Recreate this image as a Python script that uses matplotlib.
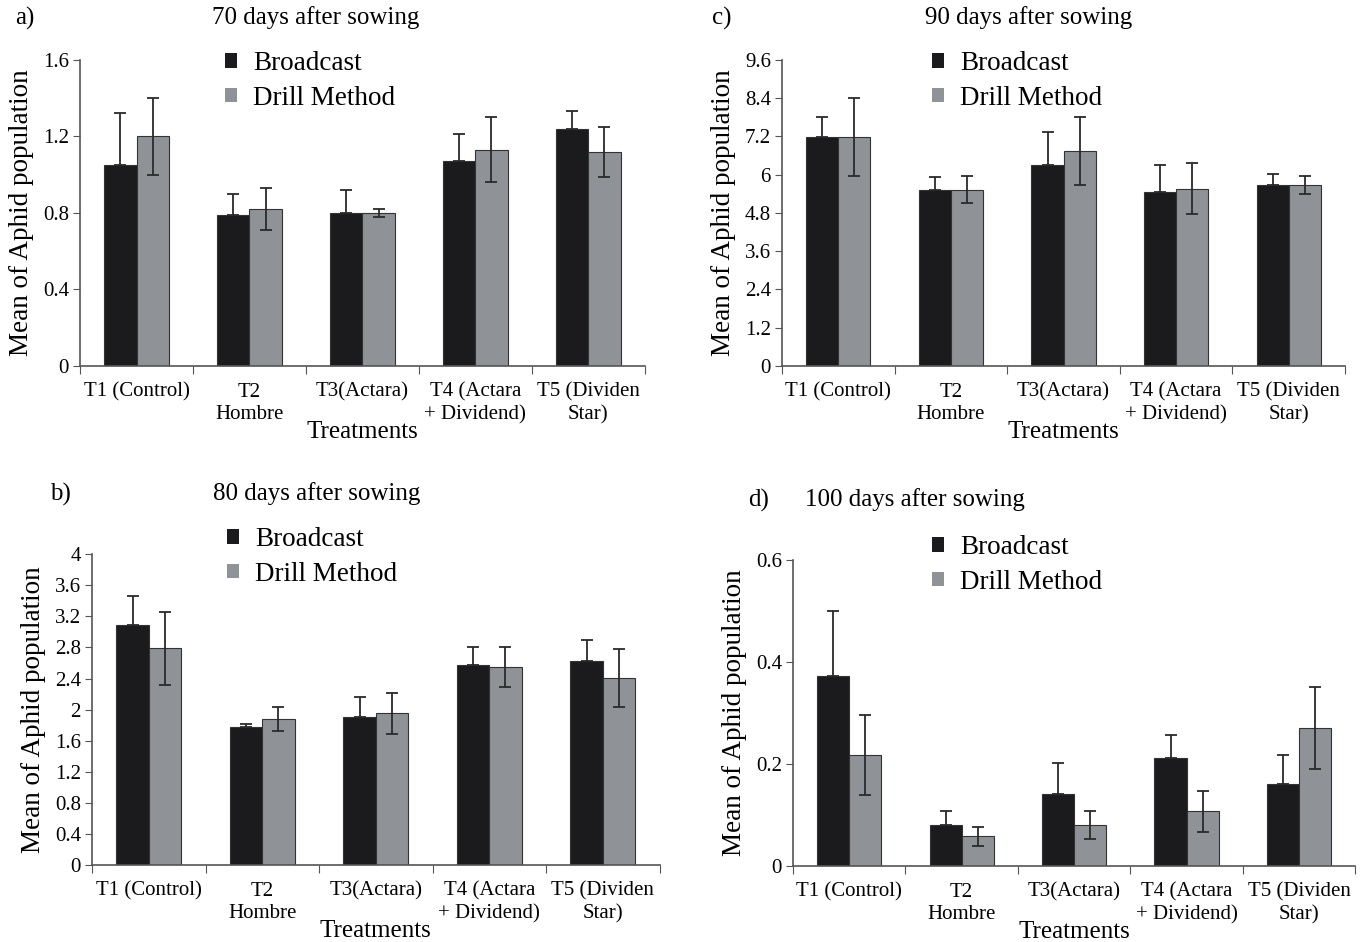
import numpy as np
import matplotlib
matplotlib.use('Agg')
import matplotlib.pyplot as plt
from matplotlib.patches import Patch

plt.rcParams['font.family'] = ['Liberation Serif', 'DejaVu Serif']

treatments = ['T1 (Control)', 'T2\nHombre', 'T3(Actara)', 'T4 (Actara\n+ Dividend)', 'T5 (Dividen\nStar)']

# 70 days
broad_70 = [1.05, 0.79, 0.80, 1.07, 1.24]
broad_70_err = [0.27, 0.11, 0.12, 0.14, 0.09]
drill_70 = [1.20, 0.82, 0.80, 1.13, 1.12]
drill_70_err = [0.20, 0.11, 0.02, 0.17, 0.13]

# 80 days
broad_80 = [3.09, 1.77, 1.90, 2.57, 2.63]
broad_80_err = [0.37, 0.05, 0.26, 0.23, 0.26]
drill_80 = [2.79, 1.88, 1.95, 2.55, 2.41]
drill_80_err = [0.47, 0.15, 0.26, 0.26, 0.37]

# 90 days
broad_90 = [7.17, 5.52, 6.30, 5.46, 5.68]
broad_90_err = [0.63, 0.39, 1.05, 0.83, 0.33]
drill_90 = [7.17, 5.53, 6.74, 5.56, 5.68]
drill_90_err = [1.22, 0.42, 1.07, 0.79, 0.28]

# 100 days
broad_100 = [0.372, 0.080, 0.142, 0.211, 0.160]
broad_100_err = [0.128, 0.027, 0.059, 0.046, 0.058]
drill_100 = [0.218, 0.058, 0.080, 0.107, 0.270]
drill_100_err = [0.078, 0.019, 0.027, 0.040, 0.080]

black = '#1b1a1c'
grey = '#8f9296'


def draw_panel(ax, broad, broad_err, drill, drill_err, ymax, step, leg_xy):
    x = np.arange(len(treatments))
    w = 0.285
    ekw = dict(ecolor='#2a2a2a', elinewidth=1.3, capsize=4, capthick=1.3)
    # lower half of the broadcast error bar is hidden inside the black bar
    ax.bar(x - w / 2, broad, w, color=black, edgecolor='#333333', linewidth=0.8,
           yerr=[np.zeros(len(broad)), broad_err], error_kw=ekw)
    ax.bar(x + w / 2, drill, w, color=grey, edgecolor='#333333', linewidth=0.8,
           yerr=drill_err, error_kw=ekw)
    ax.set_xlim(-0.5, 4.5)
    ax.set_ylim(0, ymax)
    yt = np.arange(0, ymax + step / 2, step)
    ax.set_yticks(yt)
    ax.set_yticklabels([f'{round(v, 2):g}' for v in yt])
    ax.set_xticks(np.arange(-0.5, 5, 1))
    ax.set_xticklabels([])
    ax.set_xticks(x, minor=True)
    ax.set_xticklabels(treatments, minor=True, fontsize=15, linespacing=1.25)
    ax.tick_params(axis='x', which='minor', length=0, pad=12)
    ax.tick_params(axis='x', which='major', length=6, direction='out', color='#555555')
    ax.tick_params(axis='y', length=5, direction='out', color='#555555', labelsize=15, pad=3)
    for s in ['top', 'right']:
        ax.spines[s].set_visible(False)
    for s in ['left', 'bottom']:
        ax.spines[s].set_color('#555555')
        ax.spines[s].set_linewidth(1.2)
    ax.set_ylabel('Mean of Aphid population', fontsize=19.5, labelpad=6)
    ax.set_xlabel('Treatments', fontsize=18, labelpad=-3)
    handles = [Patch(facecolor=black, label='Broadcast'),
               Patch(facecolor=grey, label='Drill Method')]
    ax.legend(handles=handles, loc='upper left', bbox_to_anchor=leg_xy,
              bbox_transform=fig.transFigure, borderpad=0, borderaxespad=0,
              frameon=False, fontsize=19.5, handlelength=0.45, handleheight=0.45,
              handletextpad=0.6, labelspacing=0.36)


fig = plt.figure(figsize=(13.61, 9.42), dpi=100)

ax_a = fig.add_axes([0.0588, 0.6115, 0.415, 0.325])
draw_panel(ax_a, broad_70, broad_70_err, drill_70, drill_70_err, 1.6, 0.4,
           (225 / 1361, 1 - 51 / 942))
ax_c = fig.add_axes([0.5746, 0.6115, 0.4137, 0.325])
draw_panel(ax_c, broad_90, broad_90_err, drill_90, drill_90_err, 9.6, 1.2,
           (932 / 1361, 1 - 51 / 942))
ax_b = fig.add_axes([0.0676, 0.0817, 0.417, 0.330])
draw_panel(ax_b, broad_80, broad_80_err, drill_80, drill_80_err, 4.0, 0.4,
           (227 / 1361, 1 - 527 / 942))
ax_d = fig.add_axes([0.5827, 0.0807, 0.413, 0.325])
draw_panel(ax_d, broad_100, broad_100_err, drill_100, drill_100_err, 0.6, 0.2,
           (932 / 1361, 1 - 535 / 942))

fig.text(15 / 1361, 1 - 18 / 942, 'a)', fontsize=18, va='center')
fig.text(212 / 1361, 1 - 18 / 942, '70 days after sowing', fontsize=18, va='center')
fig.text(712 / 1361, 1 - 18 / 942, 'c)', fontsize=18, va='center')
fig.text(925 / 1361, 1 - 18 / 942, '90 days after sowing', fontsize=18, va='center')
fig.text(50 / 1361, 1 - 494 / 942, 'b)', fontsize=18, va='center')
fig.text(213 / 1361, 1 - 494 / 942, '80 days after sowing', fontsize=18, va='center')
fig.text(748 / 1361, 1 - 500 / 942, 'd)', fontsize=18, va='center')
fig.text(805 / 1361, 1 - 500 / 942, '100 days after sowing', fontsize=18, va='center')

fig.savefig('out.png', dpi=100, facecolor='white')
